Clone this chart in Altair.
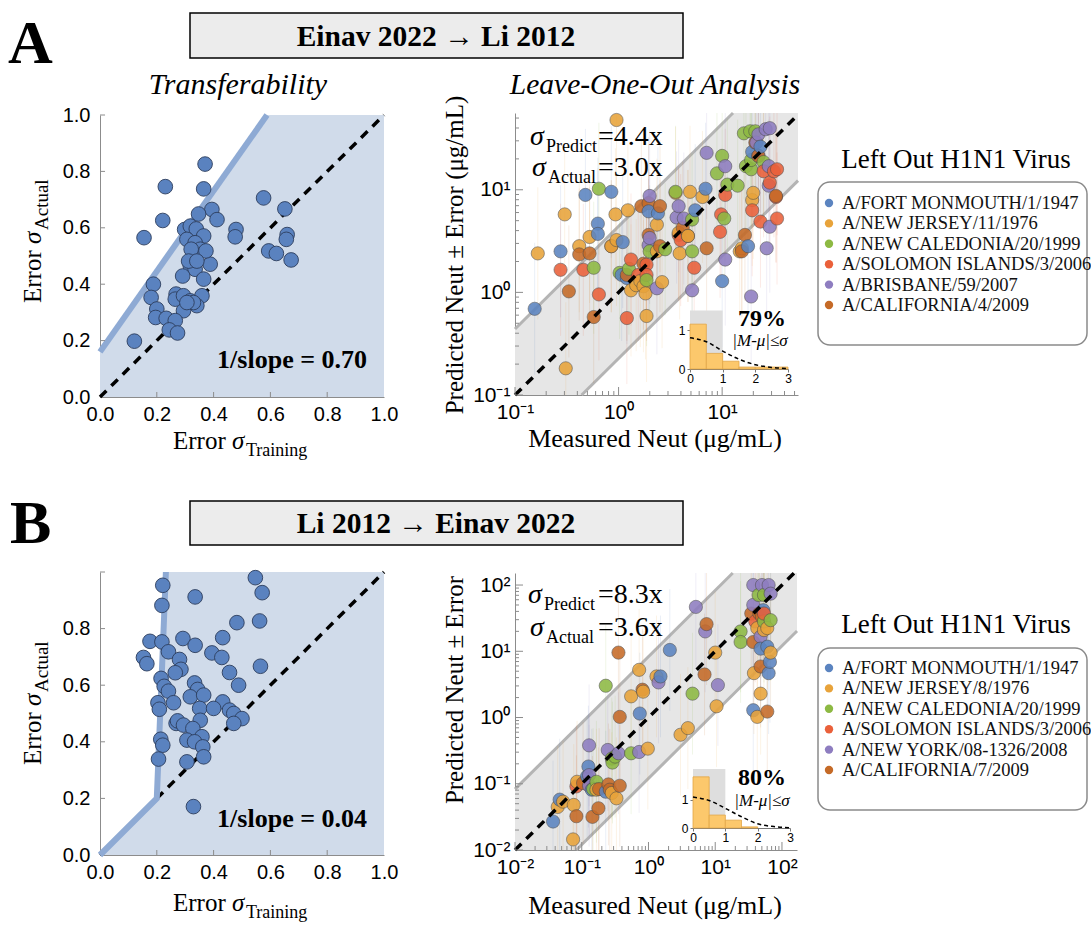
import math
import altair as alt
import pandas as pd

W, H = 1091, 931
SERIF = "Liberation Serif"
SANS = "Liberation Sans"

# ---------------- colours ----------------
FILL_BLUE = "#d0dbea"
LINE_BLUE = "#8eaad4"
DOT_BLUE = "#5a82bf"
DOT_EDGE = "#2c3d5c"
BAND_GRAY = "#e6e6e6"
BAND_EDGE = "#b4b4b4"
AXIS_GRAY = "#8c8c8c"
BAR_FILL = "#fcc86c"
BAR_EDGE = "#e2a648"
INSET_GRAY = "#dedede"
STRAIN_COLORS = ["#5b84c0", "#e8a33a", "#8db943", "#ea603a", "#8e7dc0", "#c56a27"]

# ---------------- panel A, left: transferability ----------------
A_TRAIN = [0.37, 0.23, 0.365, 0.576, 0.651, 0.394, 0.221, 0.412, 0.347, 0.479, 0.476, 0.155, 0.298,
           0.318, 0.339, 0.365, 0.306, 0.335, 0.353, 0.321, 0.659, 0.656, 0.594, 0.621, 0.673, 0.388,
           0.318, 0.335, 0.312, 0.365, 0.291, 0.188, 0.268, 0.18, 0.265, 0.294, 0.318, 0.359, 0.341,
           0.294, 0.2, 0.196, 0.233, 0.265, 0.244, 0.273, 0.121, 0.329, 0.306, 0.373, 0.341]
A_ACTUAL = [0.826, 0.746, 0.738, 0.706, 0.667, 0.665, 0.626, 0.629, 0.649, 0.594, 0.568, 0.565, 0.594,
            0.606, 0.596, 0.571, 0.559, 0.547, 0.524, 0.524, 0.576, 0.559, 0.518, 0.509, 0.486, 0.471,
            0.465, 0.453, 0.482, 0.418, 0.429, 0.4, 0.365, 0.353, 0.347, 0.359, 0.341, 0.359, 0.324,
            0.306, 0.312, 0.282, 0.279, 0.271, 0.238, 0.227, 0.198, 0.335, 0.335, 0.518, 0.482]
A_FIT_X = [0.0, 0.588]
A_FIT_Y = [0.16, 1.0]
A_SLOPE_TEXT = "1/slope = 0.70"

# ---------------- panel B, left ----------------
B_TRAIN = [0.547, 0.571, 0.335, 0.221, 0.218, 0.482, 0.562, 0.292, 0.432, 0.176, 0.218, 0.335, 0.241,
           0.394, 0.429, 0.153, 0.165, 0.28, 0.565, 0.285, 0.265, 0.456, 0.215, 0.333, 0.226, 0.488,
           0.241, 0.344, 0.318, 0.365, 0.204, 0.259, 0.432, 0.351, 0.4, 0.209, 0.456, 0.471, 0.5,
           0.471, 0.353, 0.268, 0.273, 0.294, 0.327, 0.359, 0.306, 0.333, 0.214, 0.221, 0.362, 0.365,
           0.206, 0.306, 0.329]
B_ACTUAL = [0.98, 0.927, 0.912, 0.953, 0.882, 0.821, 0.827, 0.765, 0.768, 0.755, 0.753, 0.741, 0.718,
            0.714, 0.698, 0.698, 0.676, 0.691, 0.667, 0.656, 0.644, 0.645, 0.624, 0.608, 0.596, 0.6,
            0.579, 0.585, 0.559, 0.565, 0.538, 0.538, 0.541, 0.518, 0.518, 0.515, 0.512, 0.5, 0.482,
            0.465, 0.476, 0.465, 0.474, 0.459, 0.447, 0.418, 0.406, 0.4, 0.409, 0.388, 0.382, 0.347,
            0.339, 0.329, 0.171]
B_FIT_X = [0.0, 0.2, 0.232]
B_FIT_Y = [0.0, 0.2, 1.0]
B_SLOPE_TEXT = "1/slope = 0.04"

# ---------------- right panels: strains ----------------
STRAINS_A = ["A/FORT MONMOUTH/1/1947", "A/NEW JERSEY/11/1976", "A/NEW CALEDONIA/20/1999",
             "A/SOLOMON ISLANDS/3/2006", "A/BRISBANE/59/2007", "A/CALIFORNIA/4/2009"]
STRAINS_B = ["A/FORT MONMOUTH/1/1947", "A/NEW JERSEY/8/1976", "A/NEW CALEDONIA/20/1999",
             "A/SOLOMON ISLANDS/3/2006", "A/NEW YORK/08-1326/2008", "A/CALIFORNIA/7/2009"]

# values, in decades (log10 of ug/mL)
A_FM_MEAS = [-0.81, -0.32, -0.07, -0.20, -0.20, -0.56, 0.04, 0.08, 0.29, 0.38, 0.74, 0.84, 1.00, 1.25, 1.29, 1.37, 0.03]
A_FM_PRED = [-0.16, 0.95, 0.98, 0.67, 0.57, 0.40, 0.49, 0.14, 0.79, 0.77, 0.80, 1.01, 0.11, 0.45, 1.37, 1.42, 0.17]
A_NJ_MEAS = [-0.78, -0.52, -0.51, -0.38, 0.09, -0.07, -0.02, 0.12, 0.17, 0.21, 0.24, 0.26, 0.27, 0.42, 0.37,
             0.37, 0.55, 0.69, 0.59, 0.58, 0.81, 0.67, 1.29, 1.30, 1.19, 1.17, -0.03, -0.28, -0.02]
A_NJ_PRED = [0.38, 0.76, -0.74, 0.45, 0.80, 0.45, 0.51, 0.02, 0.07, 0.11, 0.06, -0.01, -0.23, 0.10, 0.40,
             0.66, 0.97, 0.98, 0.38, 0.58, 0.93, 0.55, 0.90, 0.97, 0.43, 0.40, 0.76, 0.54, 1.68]
A_NC_MEAS = [-0.19, -0.24, 0.01, 0.10, 0.30, 0.45, 0.55, 0.71, 0.71, 0.95, 1.00, 1.05, 1.15, 1.21, 1.27,
             1.23, 1.28, 1.40, 1.28, 1.32, 1.02, 0.27]
A_NC_PRED = [1.01, 0.24, 0.19, 0.23, 0.40, 0.42, 0.98, 0.40, 0.71, 1.16, 1.33, 1.05, 1.04, 1.55, 1.57,
             1.23, 1.20, 1.27, 1.29, 1.57, 0.72, 0.12]
A_SI_MEAS = [-0.56, -0.34, -0.19, 0.08, 0.12, 0.19, 0.27, 0.27, 0.60, 0.73, 0.98, 0.99, 1.03, 1.29, 1.37,
             1.53, 1.52, 1.40, 1.46, 1.50, 1.53, 0.58]
A_SI_PRED = [0.22, 0.22, -0.02, -0.25, 0.32, 0.17, 0.17, 0.27, 0.51, 0.24, 0.59, 0.76, 0.95, 0.80, 0.69,
             0.72, 0.93, 1.18, 1.07, 1.18, 1.20, 0.56]
A_BR_MEAS = [0.30, 0.30, 0.37, 0.58, 0.56, 0.63, 0.71, 0.85, 1.03, 1.03, 1.28, 1.43, 1.46, 1.45, 1.42,
             1.46, 1.35, 1.33, 1.35, 1.45, 0.29]
A_BR_PRED = [0.94, 0.53, 0.04, 0.84, 0.73, 0.72, 0.02, 1.36, 1.23, 0.32, -0.04, 0.43, 0.64, 1.04, 1.59,
             1.60, 1.54, 1.46, 1.33, 1.23, 0.46]
A_CA_MEAS = [-0.48, -0.24, -0.38, -0.28, -0.07, 0.08, 0.22, 0.29, 0.40, 0.29, 0.40, 0.62, 0.67, 0.85,
             1.19, 1.22, 1.32, 1.35, 1.52, 0.24]
A_CA_PRED = [0.01, -0.24, 0.37, 0.38, 0.45, 0.17, 0.84, 0.87, 0.84, 0.56, 0.45, 0.63, 0.55, 0.43,
             0.40, 0.56, 1.46, 1.33, 0.94, 0.28]

B_FM_MEAS = [-1.43, -1.33, -0.92, -0.85, -0.64, -0.13, 0.18, 0.32, 1.57, 1.68, 1.78, 1.80, 1.82, 1.72, -0.90]
B_FM_PRED = [-1.57, -1.24, -0.89, -1.09, -1.12, 0.06, 0.62, 1.02, 0.11, 1.04, 1.07, 0.67, 0.84, 1.62, -0.74]
B_NJ_MEAS = [-1.13, -1.36, -1.28, -1.12, -1.07, -0.26, -0.14, -0.08, -0.01, 0.48, 0.59, 1.02, 1.00, 0.12,
             1.58, 1.63, 1.73, 1.78, 1.68, 1.63, 1.83, -0.55, -0.48, -0.78]
B_NJ_PRED = [-1.84, -1.35, -1.27, -1.32, -0.97, 0.32, 0.72, 0.39, -0.47, -0.26, -0.16, 0.17, 0.98, 0.62,
             0.67, 1.35, 1.32, 1.35, 0.36, 0.01, 0.98, -1.14, -1.22, -1.09]
B_NC_MEAS = [-0.64, -0.54, -0.50, -0.26, 0.66, 1.38, 1.38, 1.65, 1.73, 1.73, 1.83, -0.78, -0.83, -0.55]
B_NC_PRED = [0.48, -0.68, -0.59, -0.54, 0.36, 1.30, 1.14, 1.85, 1.85, 1.45, 1.47, -0.97, -1.08, -0.62]
B_SI_MEAS = [1.73, -1.08, 1.60]
B_SI_PRED = [1.57, -1.04, 1.45]
B_NY_MEAS = [-0.89, -0.61, -0.45, -0.14, 0.15, 0.71, 0.85, 1.04, 1.57, 1.70, 1.80, 1.83, 1.57, 1.68, -0.89, -0.89]
B_NY_PRED = [-0.42, -0.49, -0.54, -0.52, 0.53, 1.67, 1.30, 0.49, 2.0, 2.0, 2.0, 1.87, 1.70, 1.22, -0.87, -1.03]
B_CA_MEAS = [-0.45, -0.43, -0.09, 0.87, 0.84, -1.08, -0.84, -0.75, -0.74, -0.60, -0.58, -0.43, -0.98,
             1.57, 1.68, 1.70, 1.78, 1.66, 1.54]
B_CA_PRED = [0.98, 0.01, 0.42, 1.41, 0.65, -1.49, -1.50, -1.37, -1.08, -1.01, -1.09, -1.03, -0.99,
             1.14, 0.77, 1.52, 0.09, 1.57, 1.57]

A_SIGMA_PREDICT, A_SIGMA_ACTUAL = 4.4, 3.0
B_SIGMA_PREDICT, B_SIGMA_ACTUAL = 8.3, 3.6

# ---------------- insets ----------------
HIST_LEFT = [0.0, 0.5, 1.0, 1.5, 2.0, 2.5]
HIST_RIGHT = [0.5, 1.0, 1.5, 2.0, 2.5, 3.0]
A_HIST = [1.15, 0.40, 0.20, 0.05, 0.05, 0.05]
B_HIST = [1.82, 0.46, 0.28, 0.04, 0.0, 0.0]
CURVE_X = [0.0, 0.5, 1.0, 1.5, 2.0, 2.5, 3.0]
A_CURVE = [0.80, 0.70, 0.46, 0.25, 0.11, 0.04, 0.01]
B_CURVE = [1.10, 0.98, 0.70, 0.40, 0.15, 0.05, 0.01]
A_WITHIN = "79%"
B_WITHIN = "80%"

# ---------------- layout (pixel ranges of each panel) ----------------
AL = dict(xr=[100, 384], yr=[397, 115], xd=[0, 1], yd=[0, 1])
BL = dict(xr=[100, 384], yr=[855, 572], xd=[0, 1], yd=[0, 1])
AR = dict(xr=[515, 798], yr=[395, 113], xd=[0.1, 54], yd=[0.1, 56])
BR = dict(xr=[515, 797], yr=[850, 573], xd=[0.01, 168], yd=[0.01, 152])
AI = dict(xr=[690, 788], yr=[369, 310.5], xd=[0, 3], yd=[0, 1.5])
BI = dict(xr=[693, 790], yr=[828, 769], xd=[0, 3], yd=[0, 2.1])

layers = []


def add(ch):
    layers.append(ch)


def scale(p, ax, log=False):
    if log:
        return alt.Scale(type="log", domain=p[ax + "d"], range=p[ax + "r"], nice=False)
    return alt.Scale(type="linear", domain=p[ax + "d"], range=p[ax + "r"], nice=False, zero=False)


def X(field, p, log=False, axis=None):
    return alt.X(field, type="quantitative", scale=scale(p, "x", log), axis=axis)


def Y(field, p, log=False, axis=None):
    return alt.Y(field, type="quantitative", scale=scale(p, "y", log), axis=axis)


def one():
    return alt.Data(values=[{"k": 0}])


def text(txt, x, y, size, font=SERIF, weight="normal", style="normal", align="left",
         baseline="alphabetic", angle=0, color="black"):
    kw = dict(text=txt, fontSize=size, font=font, fontWeight=weight, fontStyle=style,
              align=align, baseline=baseline, color=color)
    if angle:
        kw["angle"] = angle
    add(alt.Chart(one()).mark_text(**kw).encode(x=alt.value(x), y=alt.value(y)))


def box(x0, y0, x1, y1, fill, stroke, sw, radius=0):
    kw = dict(fill=fill, stroke=stroke, strokeWidth=sw)
    if radius:
        kw["cornerRadius"] = radius
    add(alt.Chart(one()).mark_rect(**kw).encode(
        x=alt.value(x0), x2=alt.value(x1), y=alt.value(y0), y2=alt.value(y1)))


def axis(orient, offset, values, size=20, pad=8, fmt=None, expr=None, color=AXIS_GRAY, tick=0):
    kw = dict(orient=orient, offset=offset, values=values, labelFont=SANS, labelFontSize=size,
              labelColor="black", labelPadding=pad, labelFlush=False, labelOverlap=False,
              domainColor=color, domainWidth=1, title=None, grid=False)
    if tick:
        kw.update(ticks=True, tickSize=tick, tickColor=color)
    else:
        kw["ticks"] = False
    if fmt:
        kw["format"] = fmt
    if expr:
        kw["labelExpr"] = expr
    return alt.Axis(**kw)


# ================= left panels =================
def left_panel(p, train, actual, fit_x, fit_y, ylab_vals, slope_txt, slope_y):
    n = len(fit_x) + 1
    fill_df = pd.DataFrame({"x": fit_x + [1.0], "top": fit_y + [1.0], "bot": [0.0] * n})
    add(alt.Chart(fill_df).mark_area(color=FILL_BLUE, orient="vertical", opacity=1).encode(
        x=X("x", p), y=Y("top", p), y2=alt.Y2("bot")))
    diag = pd.DataFrame({"x": [0.0, 1.0], "y": [0.0, 1.0]})
    add(alt.Chart(diag).mark_line(color="black", strokeWidth=3.5, strokeDash=[9, 7]).encode(
        x=X("x", p), y=Y("y", p)))
    fit = pd.DataFrame({"x": fit_x, "y": fit_y, "i": list(range(len(fit_x)))})
    add(alt.Chart(fit).mark_line(color=LINE_BLUE, strokeWidth=6, strokeCap="butt").encode(
        x=X("x", p), y=Y("y", p), order="i:Q"))
    # inward ticks
    tl = 5.0 / (p["yr"][0] - p["yr"][1])
    xt = pd.DataFrame({"v": [0.2, 0.4, 0.6, 0.8], "a": 0.0, "b": tl})
    add(alt.Chart(xt).mark_rule(color=AXIS_GRAY, strokeWidth=1).encode(
        x=X("v", p), y=Y("a", p), y2=alt.Y2("b")))
    yt = pd.DataFrame({"v": [0.2, 0.4, 0.6, 0.8, 1.0], "a": 0.0, "b": tl})
    add(alt.Chart(yt).mark_rule(color=AXIS_GRAY, strokeWidth=1).encode(
        y=Y("v", p), x=X("a", p), x2=alt.X2("b")))
    pts = pd.DataFrame({"train": train, "actual": actual})
    xa = axis("bottom", -(H - p["yr"][0]), [0, 0.2, 0.4, 0.6, 0.8, 1.0], fmt=".1f", pad=7)
    ya = axis("left", -p["xr"][0], ylab_vals, fmt=".1f", pad=10)
    add(alt.Chart(pts).mark_circle(size=215, fill=DOT_BLUE, stroke=DOT_EDGE, strokeWidth=0.9,
                                   opacity=1).encode(x=X("train", p, axis=xa), y=Y("actual", p, axis=ya)))
    text(slope_txt, 367, slope_y, 26, weight="bold", align="right")


left_panel(AL, A_TRAIN, A_ACTUAL, A_FIT_X, A_FIT_Y, [0, 0.2, 0.4, 0.6, 0.8, 1.0], A_SLOPE_TEXT, 368)
left_panel(BL, B_TRAIN, B_ACTUAL, B_FIT_X, B_FIT_Y, [0, 0.2, 0.4, 0.6, 0.8], B_SLOPE_TEXT, 827)


# ================= right panels =================
def log_positions(lo, hi):
    out = []
    d = math.floor(math.log10(lo) + 1e-9)
    while float(f"1e{d}") <= hi * 1.0001:
        for m in range(1, 10):
            v = float(f"{m}e{d}")
            if lo * 0.9999 <= v <= hi * 1.0001:
                out.append((v, m == 1))
        d += 1
    return out


SUP_EXPR = ("datum.value < 0.05 ? '10\u207b\u00b2' : datum.value < 0.5 ? '10\u207b\u00b9' : "
            "datum.value < 5 ? '10\u2070' : datum.value < 50 ? '10\u00b9' : '10\u00b2'")


def strain_df(strains, meas_lists, pred_lists):
    rows = []
    for s, ms, ps in zip(strains, meas_lists, pred_lists):
        for m, q in zip(ms, ps):
            rows.append({"strain": s, "meas": 10 ** m, "pred": 10 ** q})
    return pd.DataFrame(rows)


def right_panel(p, df, strains, s_pred):
    xlo, xhi = p["xd"]
    ylo, yhi = p["yd"]
    s = s_pred
    # prediction band (clipped to the plot)
    bx = sorted({xlo, xhi, min(max(ylo * s, xlo), xhi), min(max(yhi / s, xlo), xhi)})
    band = pd.DataFrame({"x": bx,
                         "lo": [max(v / s, ylo) for v in bx],
                         "hi": [min(v * s, yhi) for v in bx]})
    add(alt.Chart(band).mark_area(color=BAND_GRAY, orient="vertical", opacity=1).encode(
        x=X("x", p, True), y=Y("lo", p, True), y2=alt.Y2("hi")))
    ux0, ux1 = max(xlo, ylo / s), min(xhi, yhi / s)
    lx0, lx1 = max(xlo, ylo * s), min(xhi, yhi * s)
    edges = pd.DataFrame({"x": [ux0, ux1, lx0, lx1],
                          "y": [ux0 * s, ux1 * s, lx0 / s, lx1 / s],
                          "e": ["u", "u", "l", "l"]})
    add(alt.Chart(edges).mark_line(color=BAND_EDGE, strokeWidth=3).encode(
        x=X("x", p, True), y=Y("y", p, True), detail="e:N"))
    # faint error bars
    eb = df.copy()
    eb["lo"] = [max(v / s, ylo) for v in eb["pred"]]
    eb["hi"] = [min(v * s, yhi) for v in eb["pred"]]
    add(alt.Chart(eb).mark_rule(strokeWidth=1, opacity=0.13).encode(
        x=X("meas", p, True), y=Y("lo", p, True), y2=alt.Y2("hi"),
        color=alt.Color("strain:N", scale=alt.Scale(domain=strains, range=STRAIN_COLORS), legend=None)))
    # points
    pts = df.sort_values("meas").reset_index(drop=True)
    majors = [v for v, mj in log_positions(xlo, xhi) if mj]
    ymajors = [v for v, mj in log_positions(ylo, yhi) if mj]
    xa = axis("bottom", -(H - p["yr"][0]), majors, size=21, pad=6, expr=SUP_EXPR)
    ya = axis("left", -p["xr"][0], ymajors, size=21, pad=5, expr=SUP_EXPR)
    add(alt.Chart(pts).mark_circle(size=175, stroke="#4a4a4a", strokeWidth=0.6, opacity=0.88).encode(
        x=X("meas", p, True, axis=xa), y=Y("pred", p, True, axis=ya),
        color=alt.Color("strain:N", scale=alt.Scale(domain=strains, range=STRAIN_COLORS), legend=None)))
    # diagonal
    d0, d1 = max(xlo, ylo), min(xhi, yhi)
    diag = pd.DataFrame({"x": [d0, d1], "y": [d0, d1]})
    add(alt.Chart(diag).mark_line(color="black", strokeWidth=3.5, strokeDash=[9, 7]).encode(
        x=X("x", p, True), y=Y("y", p, True)))
    # inward ticks (major longer than minor)
    ppd_y = (p["yr"][0] - p["yr"][1]) / math.log10(yhi / ylo)
    ppd_x = (p["xr"][1] - p["xr"][0]) / math.log10(xhi / xlo)
    xt = pd.DataFrame([{"v": v, "a": ylo, "b": ylo * 10 ** ((8 if mj else 4) / ppd_y)}
                       for v, mj in log_positions(xlo, xhi)])
    add(alt.Chart(xt).mark_rule(color=AXIS_GRAY, strokeWidth=1).encode(
        x=X("v", p, True), y=Y("a", p, True), y2=alt.Y2("b")))
    yt = pd.DataFrame([{"v": v, "a": xlo, "b": xlo * 10 ** ((8 if mj else 4) / ppd_x)}
                       for v, mj in log_positions(ylo, yhi)])
    add(alt.Chart(yt).mark_rule(color=AXIS_GRAY, strokeWidth=1).encode(
        y=Y("v", p, True), x=X("a", p, True), x2=alt.X2("b")))


A_DF = strain_df(STRAINS_A, [A_FM_MEAS, A_NJ_MEAS, A_NC_MEAS, A_SI_MEAS, A_BR_MEAS, A_CA_MEAS],
                 [A_FM_PRED, A_NJ_PRED, A_NC_PRED, A_SI_PRED, A_BR_PRED, A_CA_PRED])
B_DF = strain_df(STRAINS_B, [B_FM_MEAS, B_NJ_MEAS, B_NC_MEAS, B_SI_MEAS, B_NY_MEAS, B_CA_MEAS],
                 [B_FM_PRED, B_NJ_PRED, B_NC_PRED, B_SI_PRED, B_NY_PRED, B_CA_PRED])

right_panel(AR, A_DF, STRAINS_A, A_SIGMA_PREDICT)
right_panel(BR, B_DF, STRAINS_B, B_SIGMA_PREDICT)


# ================= insets =================
def inset(p, hist, curve):
    top = p["yd"][1]
    g = pd.DataFrame({"x0": [0.0], "x1": [1.0], "y0": [0.0], "y1": [top]})
    add(alt.Chart(g).mark_rect(fill=INSET_GRAY).encode(
        x=X("x0", p), x2=alt.X2("x1"), y=Y("y0", p), y2=alt.Y2("y1")))
    hd = pd.DataFrame({"x0": HIST_LEFT, "x1": HIST_RIGHT, "h": hist, "z": 0.0})
    hd = hd[hd["h"] > 0]
    xa = axis("bottom", -(H - p["yr"][0]), [0, 1, 2, 3], size=12, pad=1, fmt="d", color="#777", tick=3)
    ya = axis("left", -p["xr"][0], [0, 1], size=12, pad=2, fmt="d", color="#777", tick=3)
    add(alt.Chart(hd).mark_rect(fill=BAR_FILL, stroke=BAR_EDGE, strokeWidth=0.8).encode(
        x=X("x0", p, axis=xa), x2=alt.X2("x1"), y=Y("h", p, axis=ya), y2=alt.Y2("z")))
    cd = pd.DataFrame({"x": CURVE_X, "y": curve})
    add(alt.Chart(cd).mark_line(color="black", strokeWidth=1.5, strokeDash=[4, 3],
                                interpolate="monotone").encode(x=X("x", p), y=Y("y", p)))


inset(AI, A_HIST, A_CURVE)
inset(BI, B_HIST, B_CURVE)
text(A_WITHIN, 762, 326, 24, weight="bold", align="center")
text("|M-\u03bc|\u2264\u03c3", 760, 346, 17, style="italic", align="center")
text(B_WITHIN, 762, 785, 24, weight="bold", align="center")
text("|M-\u03bc|\u2264\u03c3", 762, 806, 17, style="italic", align="center")


# ================= legends =================
def legend(strains, title_y, box_top, box_bot, first, last):
    text("Left Out H1N1 Virus", 956, title_y, 27, align="center")
    box(818, box_top, 1087, box_bot, "white", "#8a8a8a", 1.5, radius=12)
    ld = pd.DataFrame({"strain": strains})
    ysc = alt.Scale(type="point", domain=strains, range=[first, last], padding=0)
    add(alt.Chart(ld).mark_circle(size=70, opacity=1).encode(
        x=alt.value(829), y=alt.Y("strain:N", scale=ysc, axis=None),
        color=alt.Color("strain:N", scale=alt.Scale(domain=strains, range=STRAIN_COLORS), legend=None)))
    add(alt.Chart(ld).mark_text(align="left", baseline="middle", font=SERIF, fontSize=18.5,
                                color="#111").encode(
        x=alt.value(842), y=alt.Y("strain:N", scale=ysc, axis=None), text="strain:N"))


legend(STRAINS_A, 168, 182, 345, 203, 305)
legend(STRAINS_B, 633, 648, 810, 668, 770)

# ================= headers & annotations =================
text("A", 8, 63, 62, weight="bold")
text("B", 10, 543, 62, weight="bold")
box(190, 13, 683, 58, "#ececec", "black", 1.5)
text("Einav 2022 \u2192 Li 2012", 436, 46, 29.5, weight="bold", align="center")
box(190, 501, 683, 545, "#ececec", "black", 1.5)
text("Li 2012 \u2192 Einav 2022", 436, 533, 29.5, weight="bold", align="center")
text("Transferability", 238, 94, 30, style="italic", align="center")
text("Leave-One-Out Analysis", 655, 94, 29.5, style="italic", align="center")

for base, sub in ((449, 456), (911, 918)):
    text("Error", 173, base, 25)
    text("\u03c3", 232, base, 25, style="italic")
    text("Training", 246, sub, 18)
for start in (303, 765):
    text("Error", 41, start, 25, angle=270)
    text("\u03c3", 41, start - 59, 25, style="italic", angle=270)
    text("Actual", 48, start - 73, 19, angle=270)

text("Predicted Neut \u00b1 Error (\u03bcg/mL)", 463, 255, 25, align="center", angle=270)
text("Predicted Neut \u00b1 Error", 463, 690, 25, align="center", angle=270)
text("Measured Neut (\u03bcg/mL)", 655, 447, 26, align="center")
text("Measured Neut (\u03bcg/mL)", 655, 914, 26, align="center")

for (sx, by, val, lab) in ((530, 145, f"={A_SIGMA_PREDICT}x", "Predict"),
                           (532, 176, f"={A_SIGMA_ACTUAL}x", "Actual"),
                           (528, 603, f"={B_SIGMA_PREDICT}x", "Predict"),
                           (530, 636, f"={B_SIGMA_ACTUAL}x", "Actual")):
    text("\u03c3", sx, by, 28, style="italic")
    text(lab, sx + 16, by + 7, 18)
    text(val, 598, by, 28)

chart = (alt.layer(*layers)
         .resolve_scale(x="independent", y="independent", color="independent")
         .properties(width=W, height=H, autosize=alt.AutoSizeParams(type="none"), padding=0)
         .configure_view(stroke=None)
         .configure_axis(grid=False))

chart.save("out.html", embed_options={"renderer": "svg", "actions": False})
